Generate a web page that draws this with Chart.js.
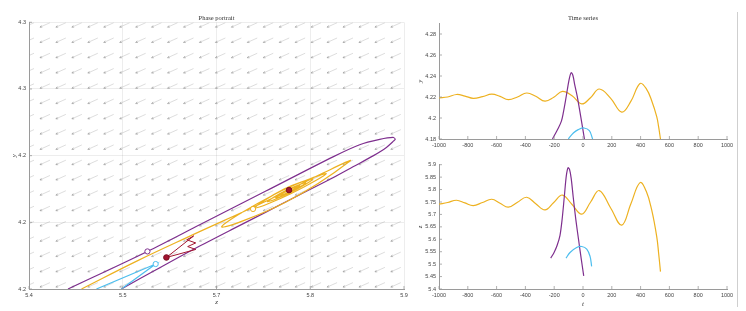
<!DOCTYPE html>
<html><head><meta charset="utf-8">
<script src="https://cdn.jsdelivr.net/npm/chart.js@4.4.1/dist/chart.umd.min.js"></script>
<style>
html,body{margin:0;padding:0;background:#fff;width:746px;height:311px;overflow:hidden;}
.box{position:absolute;}
#sep{position:absolute;left:737px;top:12px;width:1px;height:295px;background:#cfcfcf;}
</style></head><body>
<div class="box" style="left:0;top:0;width:420px;height:311px"><canvas id="phase" width="420" height="311"></canvas></div>
<div class="box" style="left:400px;top:0;width:346px;height:160px"><canvas id="tsY" width="346" height="160"></canvas></div>
<div class="box" style="left:400px;top:150px;width:346px;height:161px"><canvas id="tsZ" width="346" height="161"></canvas></div>
<div id="sep"></div>
<script>
// ---------- tick values and labels ----------
const PHASE_X_TICKS = [5.4, 5.525, 5.65, 5.775, 5.9];
const PHASE_X_LABELS = ['5.4', '5.5', '5.7', '5.8', '5.9'];
const PHASE_Y_TICKS = [4.18, 4.2075, 4.235, 4.2625, 4.29];
const PHASE_Y_LABELS = ['4.2', '4.2', '4.2', '4.3', '4.3'];
const TIME_TICKS = [-1000, -800, -600, -400, -200, 0, 200, 400, 600, 800, 1000];
const TIME_LABELS = ['-1000', '-800', '-600', '-400', '-200', '0', '200', '400', '600', '800', '1000'];
const Y_TICKS = [4.18, 4.2, 4.22, 4.24, 4.26, 4.28];
const Y_LABELS = ['4.18', '4.2', '4.22', '4.24', '4.26', '4.28'];
const Z_TICKS = [5.4, 5.45, 5.5, 5.55, 5.6, 5.65, 5.7, 5.75, 5.8, 5.85, 5.9];
const Z_LABELS = ['5.4', '5.45', '5.5', '5.55', '5.6', '5.65', '5.7', '5.75', '5.8', '5.85', '5.9'];

// ---------- yellow trajectory (time, z, y) ----------
const tYellow = [-1000, -940, -878, -820, -762, -698, -634, -576, -519, -455, -391, -328, -264, -203, -143, -76, -9, 52, 113, 191, 269, 332, 396, 440, 477, 512, 525, 538];
const zYellow = [5.741, 5.748, 5.757, 5.7462, 5.7355, 5.748, 5.761, 5.745, 5.729, 5.749, 5.769, 5.743, 5.718, 5.748, 5.778, 5.740, 5.701, 5.749, 5.796, 5.727, 5.657, 5.742, 5.828, 5.792, 5.718, 5.611, 5.545, 5.47];
const yYellow = [4.2192, 4.2200, 4.2224, 4.2209, 4.2187, 4.2203, 4.2227, 4.2206, 4.2175, 4.2200, 4.2238, 4.2207, 4.2160, 4.2197, 4.2253, 4.2212, 4.2134, 4.2193, 4.2276, 4.2190, 4.2056, 4.2158, 4.2328, 4.2278, 4.2165, 4.2013, 4.1917, 4.18];

// ---------- purple time series ----------
const tPurpleY = [-212, -171, -150, -137, -122, -109, -95, -82, -70, -58, -40, -16, 10];
const yPurple  = [4.18, 4.1905, 4.197, 4.2048, 4.216, 4.2269, 4.2375, 4.2432, 4.2405, 4.232, 4.2206, 4.2015, 4.18];
const tPurpleZ = [-224, -200, -180, -160, -145, -130, -116, -104, -94, -82, -68, -50, -30, -12, 5];
const zPurple  = [5.524, 5.548, 5.575, 5.615, 5.68, 5.77, 5.855, 5.888, 5.882, 5.845, 5.77, 5.68, 5.595, 5.52, 5.453];

// ---------- cyan time series ----------
const tCyanY = [-102, -67, -33, 7, 44, 67];
const yCyan  = [4.18, 4.1857, 4.1889, 4.1905, 4.1879, 4.18];
const tCyanZ = [-118, -90, -44, -9, 26, 49, 60];
const zCyan  = [5.524, 5.547, 5.567, 5.571, 5.5605, 5.531, 5.491];

// ---------- phase portrait curves (z, y) ----------
const phasePurpleZ = [5.452, 5.5579, 5.6276, 5.7165, 5.8053, 5.8409, 5.8676, 5.8853, 5.8883, 5.8863, 5.8765, 5.8587, 5.8320, 5.8053, 5.7609, 5.7165, 5.6720, 5.6276, 5.5743, 5.5232];
const phasePurpleY = [4.18, 4.1955, 4.2065, 4.2205, 4.2345, 4.2395, 4.2417, 4.2425, 4.2418, 4.2411, 4.2384, 4.2349, 4.2304, 4.2259, 4.2189, 4.2118, 4.2048, 4.1977, 4.1888, 4.18];
const phaseCyanZ = [5.4899, 5.5689, 5.5232];
const phaseCyanY = [4.18, 4.1903, 4.18];
const phaseRedZ = [5.5832, 5.6196, 5.6103, 5.6223, 5.6116, 5.6223, 5.5832];
const phaseRedY = [4.1930, 4.2019, 4.2003, 4.1990, 4.1975, 4.1963, 4.1930];

// markers
const purpleStart = [5.5579, 4.1955];
const cyanStart = [5.5689, 4.1903];
const yellowStart = [5.6987, 4.2130];
const redStart = [5.5832, 4.1930];
const fixedPoint = [5.7467, 4.2208];

// ---------- quiver field grid ----------
const quiverZ = [5.4, 5.4213, 5.4425, 5.4638, 5.4851, 5.5063, 5.5276, 5.5489, 5.5701, 5.5914, 5.6127, 5.6339, 5.6552, 5.6765, 5.6977, 5.719, 5.7403, 5.7615, 5.7828, 5.8041, 5.8253, 5.8466, 5.8679, 5.8891];
const quiverY = [4.2889, 4.2826, 4.2763, 4.2700, 4.2637, 4.2574, 4.2511, 4.2448, 4.2385, 4.2322, 4.2259, 4.2196, 4.2132, 4.2069, 4.2006, 4.1943, 4.1880, 4.1817];
const quiverVec = [-0.0133, -0.00185];

// ---------- styling ----------
const C_PURPLE = '#7E2F8E', C_YELLOW = '#EDB120', C_CYAN = '#4DBEEE', C_RED = '#A2142F';
const TICK_FONT = {family: "'Liberation Sans', Arial, sans-serif", size: 5.5};
const LABEL_FONT = {family: "'Liberation Serif', serif", size: 7, style: 'italic'};
const TITLE_FONT = {family: "'Liberation Serif', serif", size: 6.5, weight: 'normal'};
const TEXT_COLOR = '#444';
const AXIS_COLOR = '#9a9a9a';

const pts = (xs, ys) => xs.map((x, i) => ({x: x, y: ys[i]}));

const quiverPlugin = {
  id: 'quiver',
  beforeDatasetsDraw(chart) {
    const {ctx, chartArea: a, scales: {x, y}} = chart;
    ctx.save();
    ctx.beginPath(); ctx.rect(a.left, a.top, a.right - a.left, a.bottom - a.top); ctx.clip();
    for (const gy of quiverY) {
      for (const gz of quiverZ) {
        const x0 = x.getPixelForValue(gz - quiverVec[0] / 2), y0 = y.getPixelForValue(gy - quiverVec[1] / 2);
        const x1 = x.getPixelForValue(gz + quiverVec[0] / 2), y1 = y.getPixelForValue(gy + quiverVec[1] / 2);
        ctx.strokeStyle = 'rgba(160,160,160,0.6)'; ctx.lineWidth = 0.6;
        ctx.beginPath(); ctx.moveTo(x0, y0); ctx.lineTo(x1, y1); ctx.stroke();
        const ang = Math.atan2(y1 - y0, x1 - x0), h = 2.3;
        ctx.strokeStyle = 'rgba(110,110,110,0.7)'; ctx.lineWidth = 0.6;
        ctx.beginPath();
        ctx.moveTo(x1 - h * Math.cos(ang - 0.45), y1 - h * Math.sin(ang - 0.45));
        ctx.lineTo(x1, y1);
        ctx.lineTo(x1 - h * Math.cos(ang + 0.45), y1 - h * Math.sin(ang + 0.45));
        ctx.stroke();
      }
    }
    ctx.restore();
  }
};

const innerTicks = {
  id: 'innerTicks',
  afterDatasetsDraw(chart) {
    const {ctx, chartArea: a, scales: {x, y}} = chart;
    ctx.save(); ctx.strokeStyle = AXIS_COLOR; ctx.lineWidth = 0.8; ctx.beginPath();
    x.ticks.forEach(t => { const px = x.getPixelForValue(t.value); ctx.moveTo(px, a.bottom); ctx.lineTo(px, a.bottom - 3); });
    y.ticks.forEach(t => { const py = y.getPixelForValue(t.value); ctx.moveTo(a.left, py); ctx.lineTo(a.left + 3, py); });
    ctx.stroke(); ctx.restore();
  }
};

function scale(min, max, ticks, labels, opts) {
  return Object.assign({
    type: 'linear', min: min, max: max,
    afterBuildTicks: s => { s.ticks = ticks.map(v => ({value: v})); },
    ticks: {callback: (v, i) => labels[i], font: TICK_FONT, color: TEXT_COLOR, padding: 3, autoSkip: false, maxRotation: 0},
    grid: {display: false, drawTicks: false},
    border: {display: true, color: AXIS_COLOR, width: 1}
  }, opts);
}

function line(data, color, tension, extra) {
  return Object.assign({data: data, showLine: true, borderColor: color, backgroundColor: color, borderWidth: 1.2, pointRadius: 0, tension: tension}, extra || {});
}
function marker(p, edge, fill, r) {
  return {data: [{x: p[0], y: p[1]}], showLine: false, pointRadius: r, pointBorderWidth: 1, pointBorderColor: edge, pointBackgroundColor: fill, order: 0};
}

const baseOpts = {responsive: false, animation: false, devicePixelRatio: 1, events: []};

// ---------- phase portrait ----------
new Chart(document.getElementById('phase'), {
  type: 'scatter',
  data: {datasets: [
    marker(purpleStart, C_PURPLE, '#fff', 2.6),
    marker(cyanStart, C_CYAN, '#fff', 2.6),
    marker(yellowStart, C_YELLOW, '#fff', 2.6),
    marker(redStart, '#7a0f22', C_RED, 2.8),
    marker(fixedPoint, '#7a0f22', C_RED, 2.8),
    line(pts(phaseRedZ, phaseRedY), C_RED, 0, {borderWidth: 1, order: 1}),
    line(pts(phaseCyanZ, phaseCyanY), C_CYAN, 0, {order: 2}),
    line(pts(zYellow, yYellow), C_YELLOW, 0.4, {order: 3}),
    line(pts(phasePurpleZ, phasePurpleY), C_PURPLE, 0.3, {order: 4})
  ]},
  options: Object.assign({}, baseOpts, {
    layout: {padding: {left: 0, right: 16, top: 0, bottom: 0}},
    plugins: {legend: {display: false}, tooltip: {enabled: false},
      title: {display: true, text: 'Phase portrait', fullSize: false, font: TITLE_FONT, color: '#333', padding: {top: 14, bottom: 0.5}}},
    scales: {
      x: scale(5.4, 5.9, PHASE_X_TICKS, PHASE_X_LABELS, {
        grid: {display: true, drawTicks: false, color: 'rgba(0,0,0,0.07)', lineWidth: 1},
        title: {display: true, text: 'z', font: LABEL_FONT, color: '#333', padding: {top: 0, bottom: 5}},
        afterFit: s => { s.height = 22; }
      }),
      y: scale(4.18, 4.29, PHASE_Y_TICKS, PHASE_Y_LABELS, {
        grid: {display: true, drawTicks: false, color: 'rgba(0,0,0,0.07)', lineWidth: 1},
        title: {display: true, text: 'y', font: LABEL_FONT, color: '#333', padding: {top: 10, bottom: 0}},
        afterFit: s => { s.width = 29; }
      })
    }
  }),
  plugins: [quiverPlugin, innerTicks]
});

// ---------- time series: y ----------
new Chart(document.getElementById('tsY'), {
  type: 'scatter',
  data: {datasets: [
    line(pts(tCyanY, yCyan), C_CYAN, 0.4),
    line(pts(tPurpleY, yPurple), C_PURPLE, 0.3),
    line(pts(tYellow, yYellow), C_YELLOW, 0.4)
  ]},
  options: Object.assign({}, baseOpts, {
    layout: {padding: {left: 0, right: 19, top: 0, bottom: 0}},
    plugins: {legend: {display: false}, tooltip: {enabled: false},
      title: {display: true, text: 'Time series', fullSize: false, font: TITLE_FONT, color: '#333', padding: {top: 14, bottom: 1.7}}},
    scales: {
      x: scale(-1000, 1000, TIME_TICKS, TIME_LABELS, {afterFit: s => { s.height = 21; }}),
      y: scale(4.18, 4.29, Y_TICKS, Y_LABELS, {
        title: {display: true, text: 'y', font: LABEL_FONT, color: '#333', padding: {top: 16, bottom: 0}},
        afterFit: s => { s.width = 39; }
      })
    }
  }),
  plugins: [innerTicks]
});

// ---------- time series: z ----------
new Chart(document.getElementById('tsZ'), {
  type: 'scatter',
  data: {datasets: [
    line(pts(tCyanZ, zCyan), C_CYAN, 0.4),
    line(pts(tPurpleZ, zPurple), C_PURPLE, 0.3),
    line(pts(tYellow, zYellow), C_YELLOW, 0.4)
  ]},
  options: Object.assign({}, baseOpts, {
    layout: {padding: {left: 0, right: 19, top: 14.7, bottom: 0}},
    plugins: {legend: {display: false}, tooltip: {enabled: false}},
    scales: {
      x: scale(-1000, 1000, TIME_TICKS, TIME_LABELS, {
        title: {display: true, text: 't', font: LABEL_FONT, color: '#333', padding: {top: 0, bottom: 3}},
        afterFit: s => { s.height = 22; }
      }),
      y: scale(5.4, 5.9, Z_TICKS, Z_LABELS, {
        title: {display: true, text: 'z', font: LABEL_FONT, color: '#333', padding: {top: 16, bottom: 0}},
        afterFit: s => { s.width = 39; }
      })
    }
  }),
  plugins: [innerTicks]
});
</script>
</body></html>
